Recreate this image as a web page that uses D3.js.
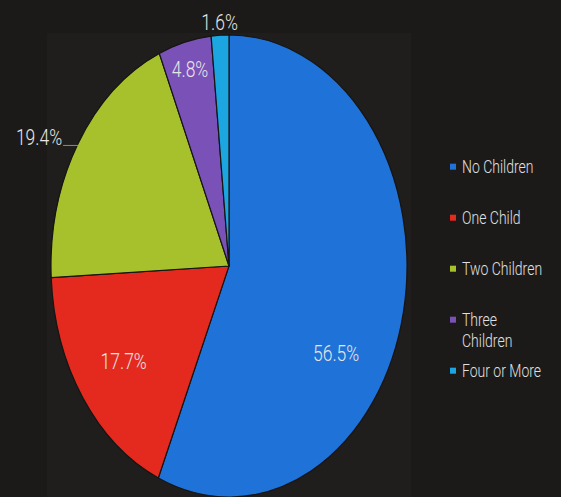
<!DOCTYPE html>
<html>
<head>
<meta charset="utf-8">
<script src="https://cdn.jsdelivr.net/npm/d3@7"></script>
<style>
  html, body { margin: 0; padding: 0; background: #1b1a18; }
  svg { display: block; }
  text { font-family: Roboto, "Noto Sans", sans-serif; font-weight: 300; }
</style>
</head>
<body>
<svg id="chart" width="561" height="497"></svg>
<script>
// Households by number of children
const categories = ["No Children", "One Child", "Two Children", "Three Children", "Four or More"];
const legendLines = [["No Children"], ["One Child"], ["Two Children"], ["Three", "Children"], ["Four or More"]];
const values = [56.5, 17.7, 19.4, 4.8, 1.6];
const colors = ["#1e72d8", "#e42a1f", "#a6c12b", "#7a51b6", "#1ba6e2"];

const width = 561, height = 497;
const cx = 229, cy = 266;      // pie centre
const rx = 178, ry = 231;      // pie is drawn stretched vertically
const textStretch = 1.3;       // text shares the same vertical stretch

// where each value label sits: fraction along the slice and fraction of the radius
const labelAlong = [0.6, 0.5, 0.5, 0.5, 0.5];
const labelRadius = [0.71, 0.72, null, 0.88, 1.056];

const svg = d3.select("#chart");

// plot area panel
svg.append("rect")
  .attr("x", 47).attr("y", 33)
  .attr("width", 364).attr("height", height - 33)
  .attr("fill", "#1f1e1c");

const pie = d3.pie().sort(null).startAngle(0).endAngle(2 * Math.PI);
const arcs = pie(values);
const arc = d3.arc().innerRadius(0).outerRadius(rx);

const g = svg.append("g")
  .attr("transform", `translate(${cx},${cy}) scale(1,${ry / rx})`);

g.selectAll("path")
  .data(arcs)
  .join("path")
  .attr("d", arc)
  .attr("fill", (d, i) => colors[i])
  .attr("stroke", "#161514")
  .attr("stroke-width", 1.2)
  .attr("vector-effect", "non-scaling-stroke");

// point on the ellipse at a pie angle (clockwise from 12 o'clock) and radius fraction
const at = (a, f) => [cx + rx * f * Math.sin(a), cy - ry * f * Math.cos(a)];
const fmt = v => d3.format(".1f")(v) + "%";

const labels = svg.append("g").attr("fill", "#e6e6e6").attr("font-size", 17.5);

arcs.forEach((d, i) => {
  const a = d.startAngle + (d.endAngle - d.startAngle) * labelAlong[i];
  if (labelRadius[i] !== null) {
    const [x, y] = at(a, labelRadius[i]);
    labels.append("text")
      .attr("transform", `translate(${x},${y}) scale(1,${textStretch})`)
      .attr("text-anchor", "middle")
      .attr("dy", "0.35em")
      .text(fmt(values[i]));
  } else {
    // outside label with a short horizontal leader line
    const [ex, ey] = at(a, 1);
    const lx = ex - 15;
    svg.append("line")
      .attr("x1", ex).attr("y1", ey + 2)
      .attr("x2", lx).attr("y2", ey + 2)
      .attr("stroke", "#8a8a8a").attr("stroke-width", 1);
    labels.append("text")
      .attr("transform", `translate(${lx - 1},${ey + 2}) scale(1,${textStretch})`)
      .attr("text-anchor", "end")
      .text(fmt(values[i]));
  }
});

// legend
const legend = svg.append("g").attr("font-size", 14).attr("fill", "#e0e0e0");
const legendY = d3.scaleLinear().domain([0, categories.length - 1]).range([166.7, 370.7]);
categories.forEach((c, i) => {
  const y = legendY(i);
  legend.append("rect")
    .attr("x", 450).attr("y", y - 3)
    .attr("width", 6).attr("height", 6)
    .attr("fill", colors[i]);
  legendLines[i].forEach((line, k) => {
    legend.append("text")
      .attr("transform", `translate(462,${y + k * 21}) scale(1,${textStretch})`)
      .attr("dy", "0.35em")
      .text(line);
  });
});
</script>
</body>
</html>
